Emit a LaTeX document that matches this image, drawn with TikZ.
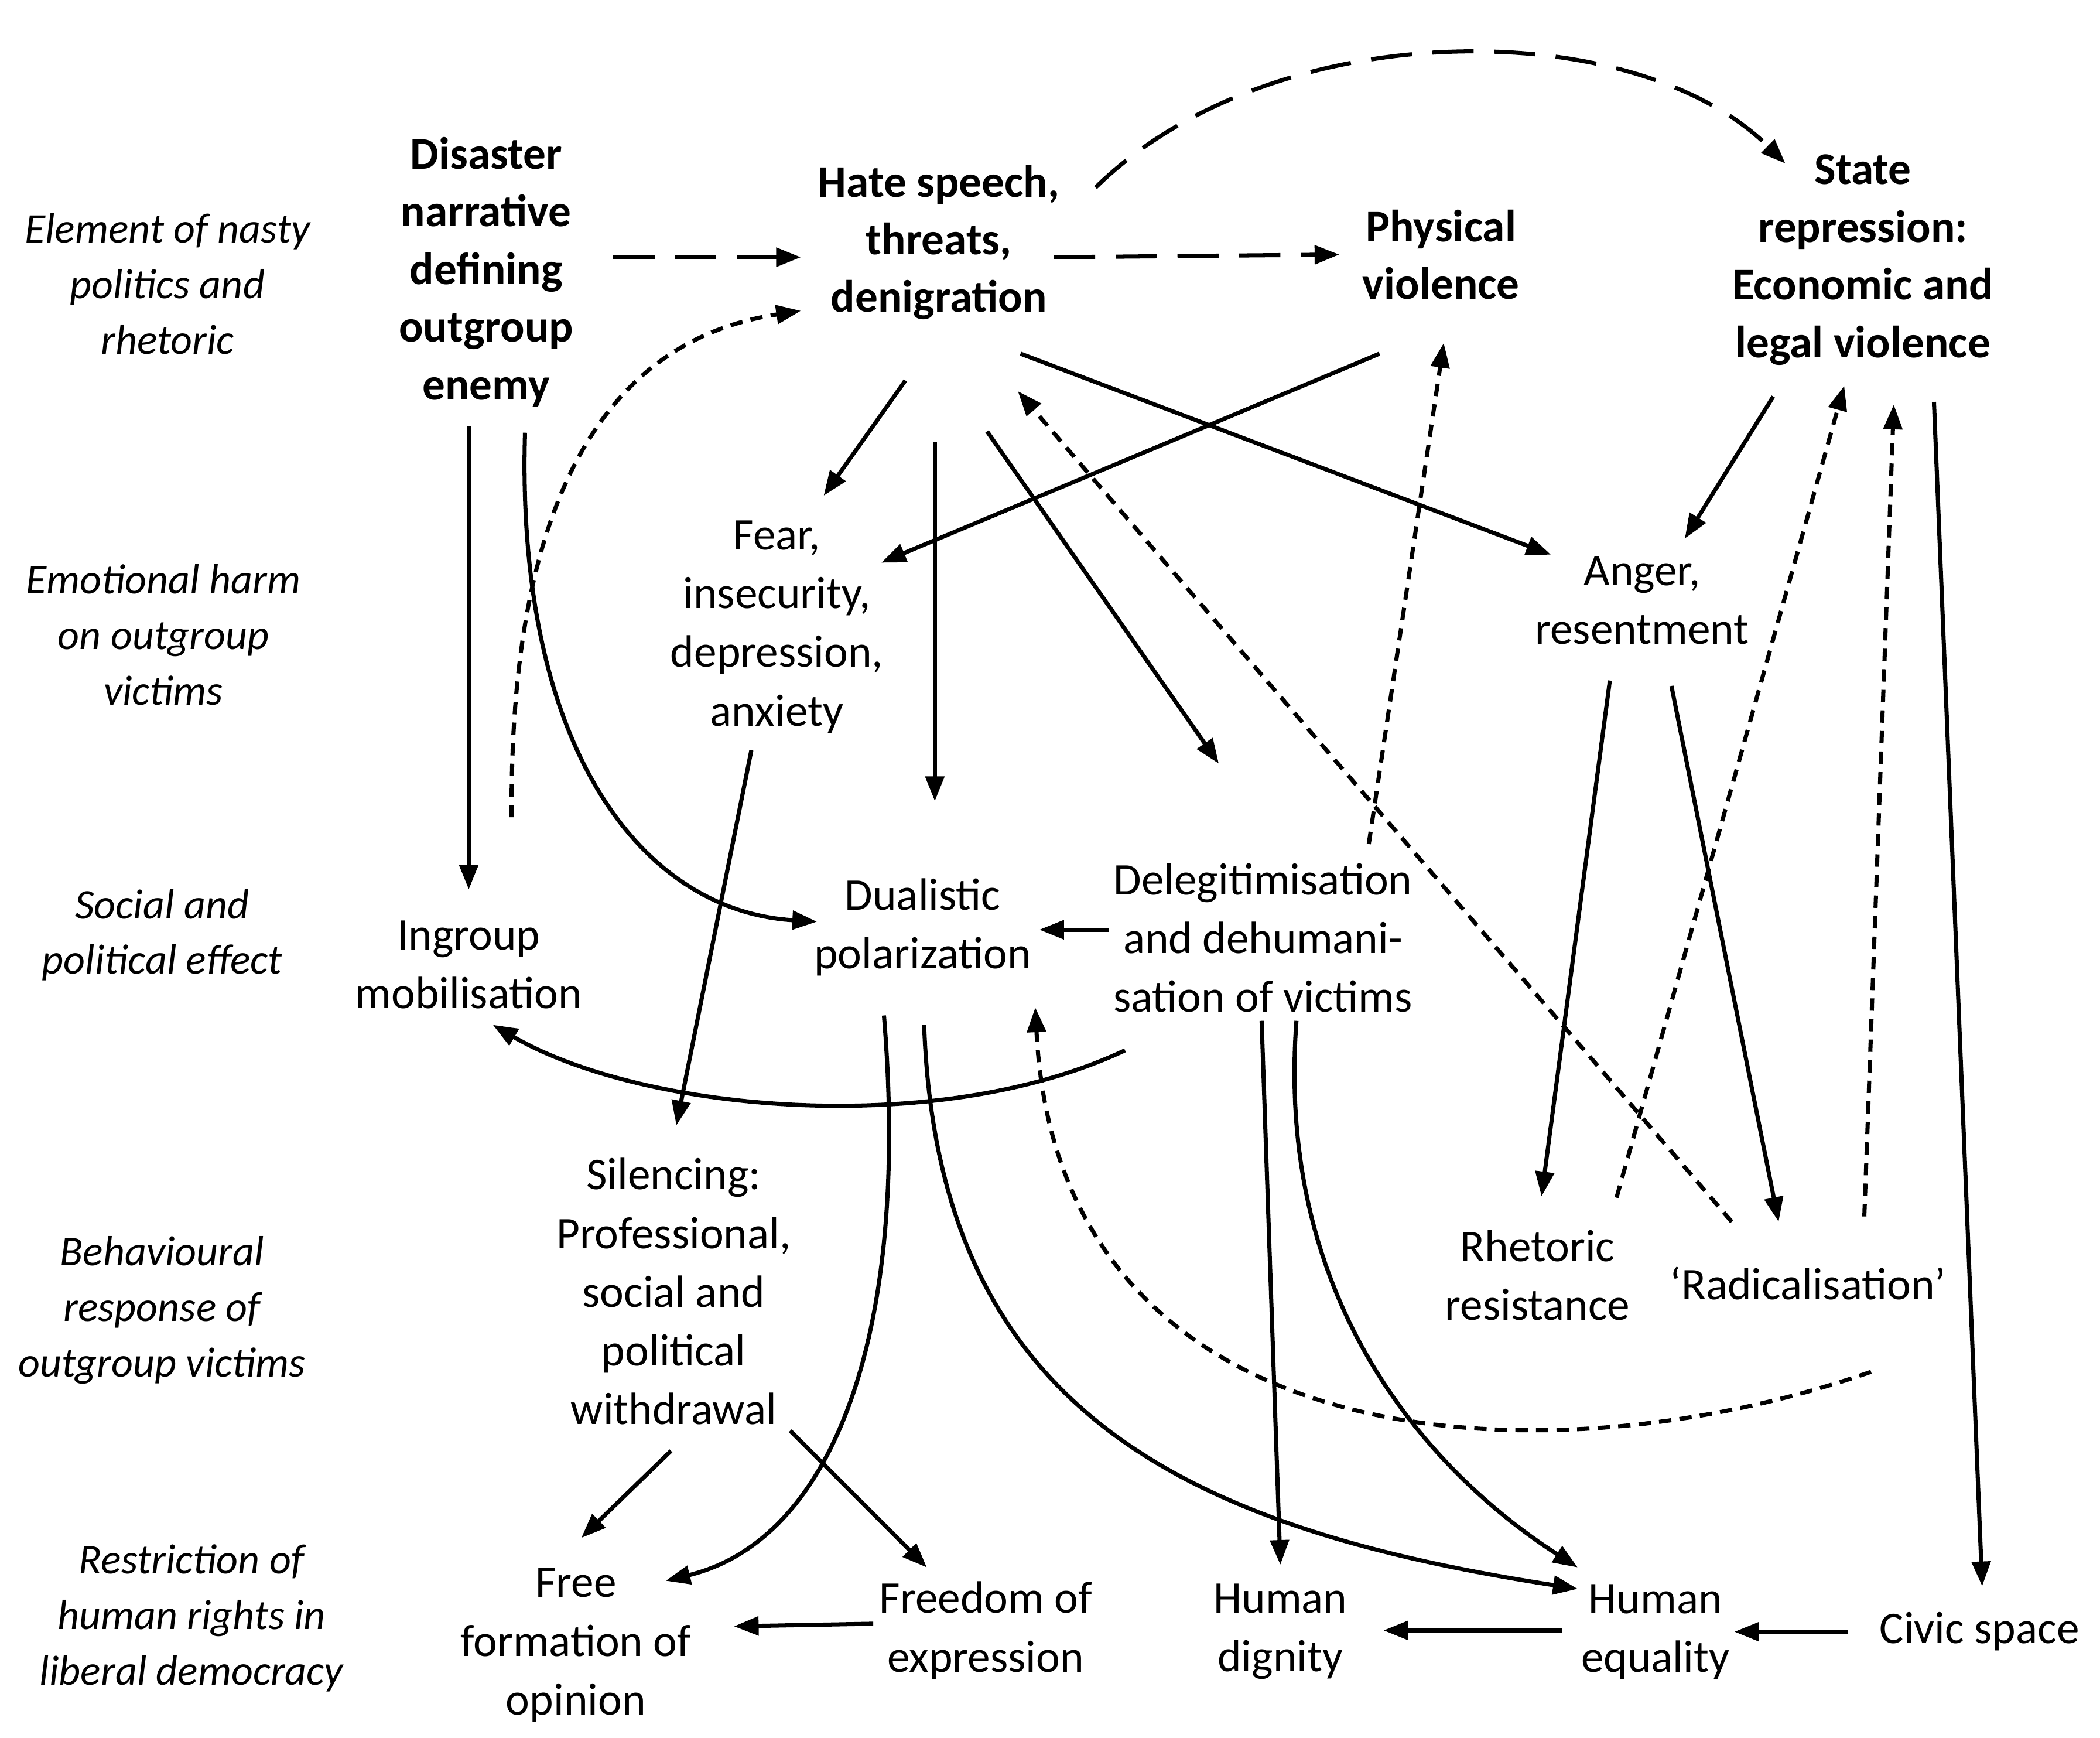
\documentclass[tikz,border=0pt]{standalone}
\usepackage{fontspec}
\setmainfont{Carlito}
\usetikzlibrary{arrows.meta}
\begin{document}
\begin{tikzpicture}[x=0.02287cm,y=-0.02287cm,
  lbl/.style={align=center,inner sep=2pt,font=\fontsize{22}{28.5}\selectfont},
  side/.style={align=center,inner sep=2pt,font=\fontsize{20.5}{27}\selectfont\itshape},
  key/.style={align=center,inner sep=2pt,font=\fontsize{22}{28}\selectfont\bfseries},
  arr/.style={-{Triangle[length=12pt,width=9pt]},line width=2pt},
  longdash/.style={arr,dash pattern=on 20pt off 10pt},
  shortdash/.style={arr,dash pattern=on 6pt off 4pt}]
\useasboundingbox (0,0) rectangle (1568,1297);

% row labels
\node[side] at (125,212) {Element of nasty\\politics and\\rhetoric};
\node[side] at (122,474) {Emotional harm\\on outgroup\\victims};
\node[side] at (121,698) {Social and\\political effect};
\node[side] at (121,978) {Behavioural\\response of\\outgroup victims};
\node[side] at (143,1208) {Restriction of\\human rights in\\liberal democracy};

% nodes
\node[key] (dis)   at (363,203)  {Disaster\\narrative\\defining\\outgroup\\enemy};
\node[key] (hate)  at (701,181)  {Hate speech,\\threats,\\denigration};
\node[key] (phys)  at (1076,190) {Physical\\violence};
\node[key] (state) at (1391,194) {State\\repression:\\Economic and\\legal violence};
\node[lbl] (fear)  at (580,468)  {Fear,\\insecurity,\\depression,\\anxiety};
\node[lbl] (anger) at (1226,448) {Anger,\\resentment};
\node[lbl] (ing)   at (350,720)  {Ingroup\\mobilisation};
\node[lbl] (dual)  at (689,692)  {Dualistic\\polarization};
\node[lbl] (deleg) at (943,700)  {Delegitimisation\\and dehumani-\\sation of victims};
\node[lbl] (sil)   at (503,964)  {Silencing:\\Professional,\\social and\\political\\withdrawal};
\node[lbl] (rhet)  at (1148,952) {Rhetoric\\resistance};
\node[lbl] (rad)   at (1350,958) {`Radicalisation'};
\node[lbl] (free)  at (430,1228) {Free\\formation of\\opinion};
\node[lbl] (expr)  at (736,1217) {Freedom of\\expression};
\node[lbl] (dign)  at (956,1218) {Human\\dignity};
\node[lbl] (equ)   at (1236,1218) {Human\\equality};
\node[lbl] (civ)   at (1478,1218) {Civic space};

% straight solid arrows
\foreach \a/\ax/\ay/\b/\bx/\by in {
  dis/-13/115/ing/0/-56,
  hate/-25/103/fear/35/-98,
  hate/-3/149/dual/9/-94,
  hate/36/141/deleg/-33/-130,
  hate/61/83/anger/-68/-34,
  phys/-46/74/fear/78/-48,
  state/-67/102/anger/32/-46,
  state/53/106/civ/2/-34,
  anger/-24/60/rhet/3/-59,
  anger/22/64/rad/-22/-46,
  deleg/-115/-6/dual/87/2,
  fear/-19/92/sil/2/-124,
  deleg/-1/62/dign/0/-50,
  sil/-2/119/free/4/-80,
  sil/87/104/expr/-44/-47,
  expr/-84/-5/free/118/-14,
  equ/-70/-1/dign/77/-1,
  civ/-98/0/equ/59/0}
  \draw[arr] ([shift={(\ax,\ay)}]\a.center) -- ([shift={(\bx,\by)}]\b.center);

% dashed arrows
\draw[longdash] ([shift={(95,-11)}]dis.center) -- ([shift={(-103,11)}]hate.center);
\draw[longdash] ([shift={(86,11)}]hate.center) -- ([shift={(-76,0)}]phys.center);
\draw[longdash] ([shift={(117,-41)}]hate.center) .. controls (950,10) and (1220,10) .. ([shift={(-58,-72)}]state.center);
\foreach \a/\ax/\ay/\b/\bx/\by in {
  deleg/79/-70/phys/2/66,
  rad/-57/-46/hate/59/111,
  rhet/59/-58/state/-14/94,
  rad/42/-50/state/23/108}
  \draw[shortdash] ([shift={(\ax,\ay)}]\a.center) -- ([shift={(\bx,\by)}]\b.center);
\draw[shortdash] ([shift={(32,-110)}]ing.center) .. controls (380,330) and (480,250) .. ([shift={(-103,51)}]hate.center);
\draw[shortdash] ([shift={(47,66)}]rad.center) .. controls (1150,1110) and (790,1090) .. ([shift={(84,60)}]dual.center);

% curved solid arrows
\draw[arr] ([shift={(29,120)}]dis.center) .. controls (385,560) and (480,680) .. ([shift={(-79,-4)}]dual.center);
\draw[arr] ([shift={(-103,84)}]deleg.center) .. controls (700,850) and (480,830) .. ([shift={(18,45)}]ing.center);
\draw[arr] ([shift={(-29,66)}]dual.center) .. controls (680,1000) and (620,1150) .. ([shift={(67,-48)}]free.center);
\draw[arr] ([shift={(1,73)}]dual.center) .. controls (700,1050) and (880,1140) .. ([shift={(-58,-32)}]equ.center);
\draw[arr] ([shift={(25,62)}]deleg.center) .. controls (950,1000) and (1100,1120) .. ([shift={(-58,-48)}]equ.center);
\end{tikzpicture}
\end{document}
